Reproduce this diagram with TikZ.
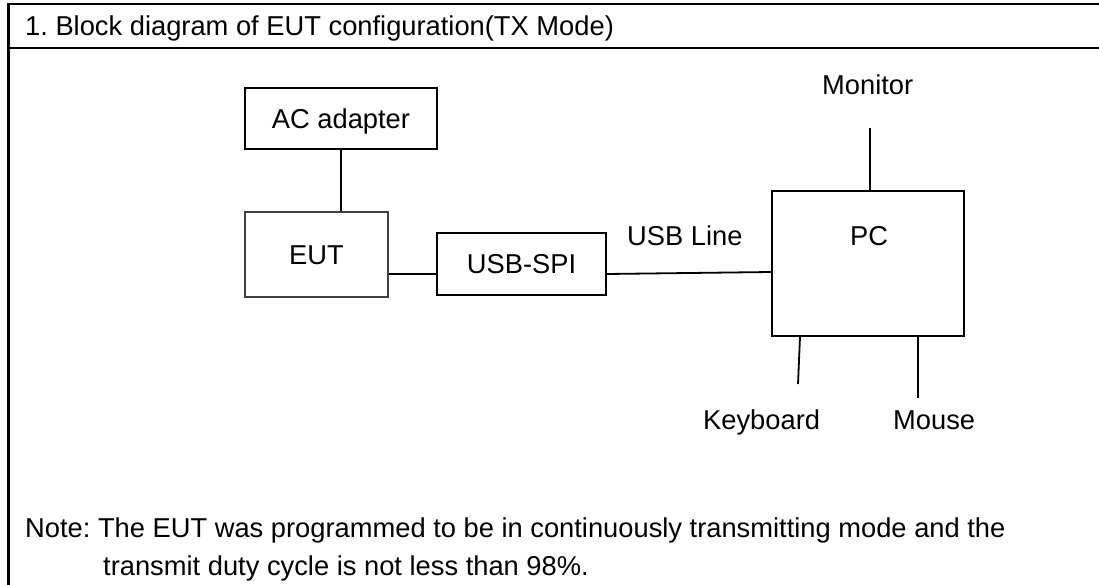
\documentclass[tikz,border=0pt]{standalone}
\usepackage{fontspec}
\setmainfont{Liberation Sans}
\usepackage{tikz}
\frenchspacing

\begin{document}
\begin{tikzpicture}[
        x=1pt, y=-1pt,
        font=\fontsize{27.3}{32}\selectfont,
        box/.style = {rectangle, draw=#1, line width=1.8pt, text height=19.5pt, text depth=0pt, inner sep=0pt},
        box/.default = black,
        lbl/.style = {inner sep=0pt, anchor=base west},
        wire/.style = {line width=1.8pt},
        frame/.style = {line width=2.7pt}
        ]

        \useasboundingbox (0,0) rectangle (1099,585);

        % table frame
        \coordinate (tl) at (8.5,4);
        \draw[frame] (1099,4) -- (tl) -- (8.5,585);
        \draw[frame] (8.5,48) -- (1099,48);
        \node (title) at (25,36) [lbl] {1. Block diagram of EUT configuration(TX Mode)};

        % blocks
        \node (ac) at (341,118.5)     [box, minimum width=192pt, minimum height=61pt] {AC adapter};
        \node (eut) at (316.5,254.5)  [box=black!75, minimum width=143pt, minimum height=85pt] {EUT};
        \node (usbspi) at (521.5,264) [box, minimum width=169pt, minimum height=62pt] {USB-SPI};
        \node (pc) at (868,263.5)     [box, minimum width=192pt, minimum height=145pt] {};
        \node (pctxt) at (850,245)    [lbl] {PC};

        \node (usbline) at (627,245)  [lbl] {USB Line};
        \node (monitor) at (822,95)   [lbl] {Monitor};
        \node (keyboard) at (703,429) [lbl] {Keyboard};
        \node (mouse) at (893,429)    [lbl] {Mouse};

        \coordinate (monend) at (870,128);
        \coordinate (kbend) at (798,384);
        \coordinate (msend) at (918,398);

        % cables
        \draw[wire] (ac.south) -- (ac.south |- eut.north);
        \draw[wire] ([yshift=-10pt]usbspi.west) -- ([yshift=-10pt]usbspi.west -| eut.east);
        \draw[wire] ([yshift=-10pt]usbspi.east) -- ([yshift=-8.5pt]pc.west);
        \draw[wire] (pc.north -| monend) -- (monend);
        \draw[wire] ([xshift=-68pt]pc.south) -- (kbend);
        \draw[wire] (pc.south -| msend) -- (msend);

        \node (note1) at (25,537)  [lbl] {Note: The EUT was programmed to be in continuously transmitting mode and the};
        \node (note2) at (103,575) [lbl] {transmit duty cycle is not less than 98\%.};
    \end{tikzpicture}
\end{document}
